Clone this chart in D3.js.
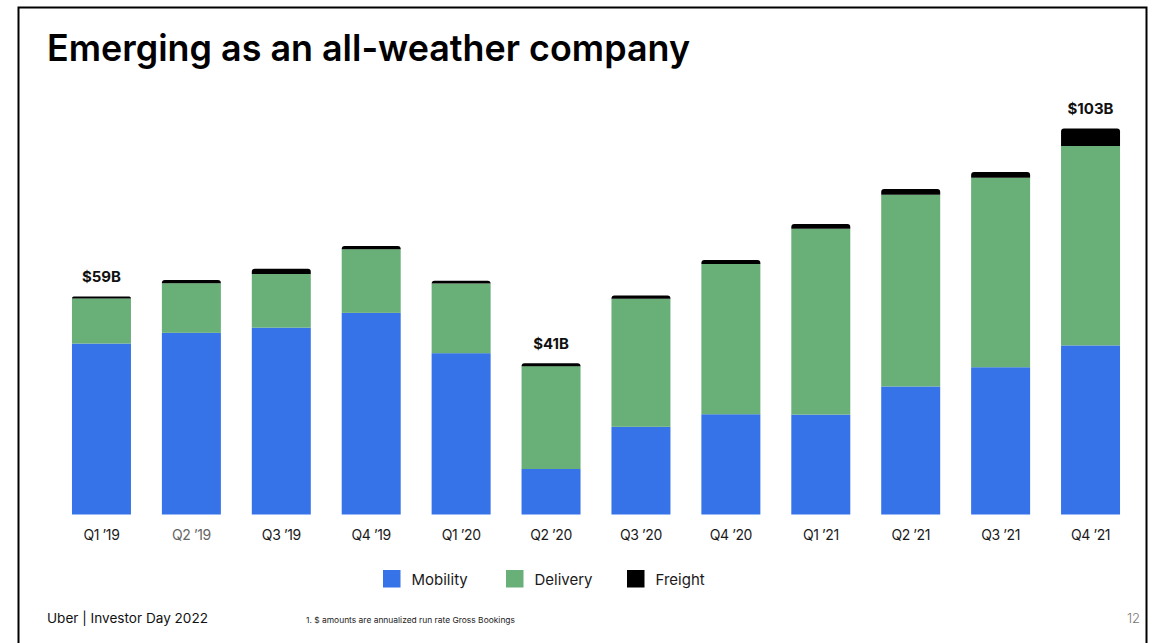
<!DOCTYPE html>
<html>
<head>
<meta charset="utf-8">
<script src="https://cdn.jsdelivr.net/npm/d3@7"></script>
<style>
  html, body { margin: 0; padding: 0; background: #fff; }
  svg { display: block; }
  text { font-family: Inter, "Noto Sans", sans-serif; }
</style>
</head>
<body>
<svg id="chart" width="1168" height="643"></svg>
<script>
// ---- data (annualized run-rate Gross Bookings, $B) ----
const quarters = ["Q1 \u201919","Q2 \u201919","Q3 \u201919","Q4 \u201919","Q1 \u201920","Q2 \u201920",
                  "Q3 \u201920","Q4 \u201920","Q1 \u201921","Q2 \u201921","Q3 \u201921","Q4 \u201921"];
const mobility = [46.2, 49.1, 50.5, 54.5, 43.6, 12.3, 23.7, 27.1, 27.0, 34.6, 39.8, 45.7];
const delivery = [12.2, 13.4, 14.5, 17.2, 18.8, 27.8, 34.6, 40.6, 50.2, 51.8, 51.2, 53.9];
const freight  = [0.5, 0.9, 1.4, 0.9, 0.8, 0.8, 0.9, 1.1, 1.3, 1.6, 1.6, 4.7];
const totalLabels = ["$59B","","","","","$41B","","","","","","$103B"];
const seriesNames = ["Mobility","Delivery","Freight"];
const seriesColors = ["#3672e8","#68af78","#000000"];

(function () {
const svg = d3.select("#chart");

// frame
svg.append("path")
  .attr("d", "M18.5,643 L18.5,7.5 L1146.5,7.5 L1146.5,643")
  .attr("fill", "none").attr("stroke", "#000").attr("stroke-width", 2);

// title
svg.append("text")
  .attr("x", 47).attr("y", 61)
  .attr("font-size", 37).attr("font-weight", 600).attr("fill", "#000")
  .attr("textLength", 643).attr("lengthAdjust", "spacingAndGlyphs")
  .text("Emerging as an all-weather company");

// scales
const x = d3.scaleBand().domain(quarters)
  .range([56.5, 1135.5]).paddingInner(0.344).paddingOuter(0.172);
const y = d3.scaleLinear().domain([0, 100]).range([514.5, 144.5]);

const table = quarters.map((q, i) => ({
  q, Mobility: mobility[i], Delivery: delivery[i], Freight: freight[i], label: totalLabels[i]
}));
const stacked = d3.stack().keys(seriesNames)(table);

function roundTop(x0, y0, w, h, r) {
  r = Math.min(r, h, w / 2);
  return `M${x0},${y0 + h} L${x0},${y0 + r} Q${x0},${y0} ${x0 + r},${y0} ` +
         `L${x0 + w - r},${y0} Q${x0 + w},${y0} ${x0 + w},${y0 + r} L${x0 + w},${y0 + h} Z`;
}

stacked.forEach((layer, si) => {
  const g = svg.append("g").attr("fill", seriesColors[si]);
  if (si < 2) {
    g.selectAll("rect").data(layer).join("rect")
      .attr("x", d => x(d.data.q))
      .attr("y", d => y(d[1]))
      .attr("width", x.bandwidth())
      .attr("height", d => y(d[0]) - y(d[1]));
  } else {
    g.selectAll("path").data(layer).join("path")
      .attr("d", d => roundTop(x(d.data.q), y(d[1]), x.bandwidth(), y(d[0]) - y(d[1]), 3));
  }
});

// total labels
const topLayer = stacked[stacked.length - 1];
svg.append("g").selectAll("text").data(topLayer.filter(d => d.data.label)).join("text")
  .attr("x", d => x(d.data.q) + x.bandwidth() / 2)
  .attr("y", d => y(d[1]) - 14.5)
  .attr("text-anchor", "middle")
  .attr("font-size", 15).attr("font-weight", 700).attr("fill", "#111")
  .text(d => d.data.label);

// x axis
const xAxis = svg.append("g")
  .attr("transform", `translate(0,${y(0)})`)
  .call(d3.axisBottom(x).tickSize(0).tickPadding(16));
xAxis.select(".domain").remove();
xAxis.selectAll("text")
  .attr("font-family", "Inter, 'Noto Sans', sans-serif")
  .attr("font-size", 14).attr("letter-spacing", -0.4)
  .attr("fill", (d, i) => i === 1 ? "#666" : "#1a1a1a");

// legend
const legendX = [383, 506, 627];
const legend = svg.append("g");
seriesNames.forEach((n, i) => {
  legend.append("rect")
    .attr("x", legendX[i]).attr("y", 570).attr("width", 17.5).attr("height", 17.5)
    .attr("fill", seriesColors[i]);
  legend.append("text")
    .attr("x", legendX[i] + 28.5).attr("y", 584.5)
    .attr("font-size", 15).attr("fill", "#1a1a1a")
    .text(n);
});

// footer
svg.append("text")
  .attr("x", 47).attr("y", 623)
  .attr("font-size", 13).attr("fill", "#111")
  .attr("textLength", 161).attr("lengthAdjust", "spacingAndGlyphs")
  .text("Uber  |  Investor Day 2022");
svg.append("text")
  .attr("x", 306).attr("y", 623)
  .attr("font-size", 8).attr("fill", "#222")
  .attr("textLength", 209).attr("lengthAdjust", "spacingAndGlyphs")
  .text("1. $ amounts are annualized run rate Gross Bookings");
svg.append("text")
  .attr("x", 1140).attr("y", 623)
  .attr("text-anchor", "end")
  .attr("font-size", 13).attr("font-weight", 300).attr("fill", "#777")
  .text("12");
})();
</script>
</body>
</html>
